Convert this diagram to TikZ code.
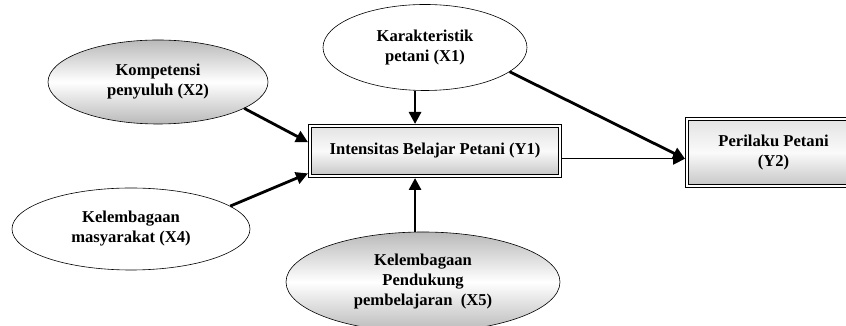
\documentclass[tikz,border=0pt]{standalone}
\usepackage{fontspec}
\setmainfont{Liberation Serif}
\usetikzlibrary{shapes.geometric,arrows.meta}

\begin{document}
\begin{tikzpicture}[x=1pt,y=1pt,
    font=\bfseries\fontsize{16.6}{20}\selectfont,
    var/.style={ellipse,draw,line width=0.6pt,align=center,inner sep=0pt},
    shaded/.style={top color=gray!55,bottom color=gray!55,middle color=white},
    box/.style={rectangle,draw,double=white,double distance=1.6pt,line width=1pt,
      align=center,outer sep=2pt,top color=gray!22,bottom color=gray!45,middle color=gray!4},
    arr/.style={-{Triangle[length=12pt,width=12pt]},line width=2.8pt}]
  \useasboundingbox (0,0) rectangle (846,326);

  \node[var,minimum width=204,minimum height=86] (x1) at (425,278.5) {Karakteristik\\petani (X1)};
  \node[var,shaded,minimum width=220,minimum height=84] (x2) at (158,244) {Kompetensi\\penyuluh (X2)};
  \node[var,minimum width=238,minimum height=82] (x4) at (131,97) {Kelembagaan\\masyarakat (X4)};
  \node[var,shaded,minimum width=274,minimum height=100] (x5) at (423,44) {Kelembagaan\\Pendukung\\pembelajaran\ \ (X5)};
  \node[box,minimum width=250,minimum height=50] (y1) at (435,175) {Intensitas Belajar Petani (Y1)};
  \node[box,minimum width=173,minimum height=67] (y2) at (773.5,173.5) {Perilaku Petani\\(Y2)};

  \draw[arr] (x1.257) -- (x1.257 |- y1.north);
  \draw[arr] (x1.-16) -- (y2.184);
  \draw[arr] (x2.-17) -- (y1.176);
  \draw[arr] (x4.13) -- (y1.190);
  \draw[arr] (x1.257 |- x5.north) -- (x1.257 |- y1.south);
  \draw[-{Triangle[length=12pt,width=12pt]},line width=1.3pt] (y1.east |- y2.184) -- (y2.184);
\end{tikzpicture}
\end{document}
